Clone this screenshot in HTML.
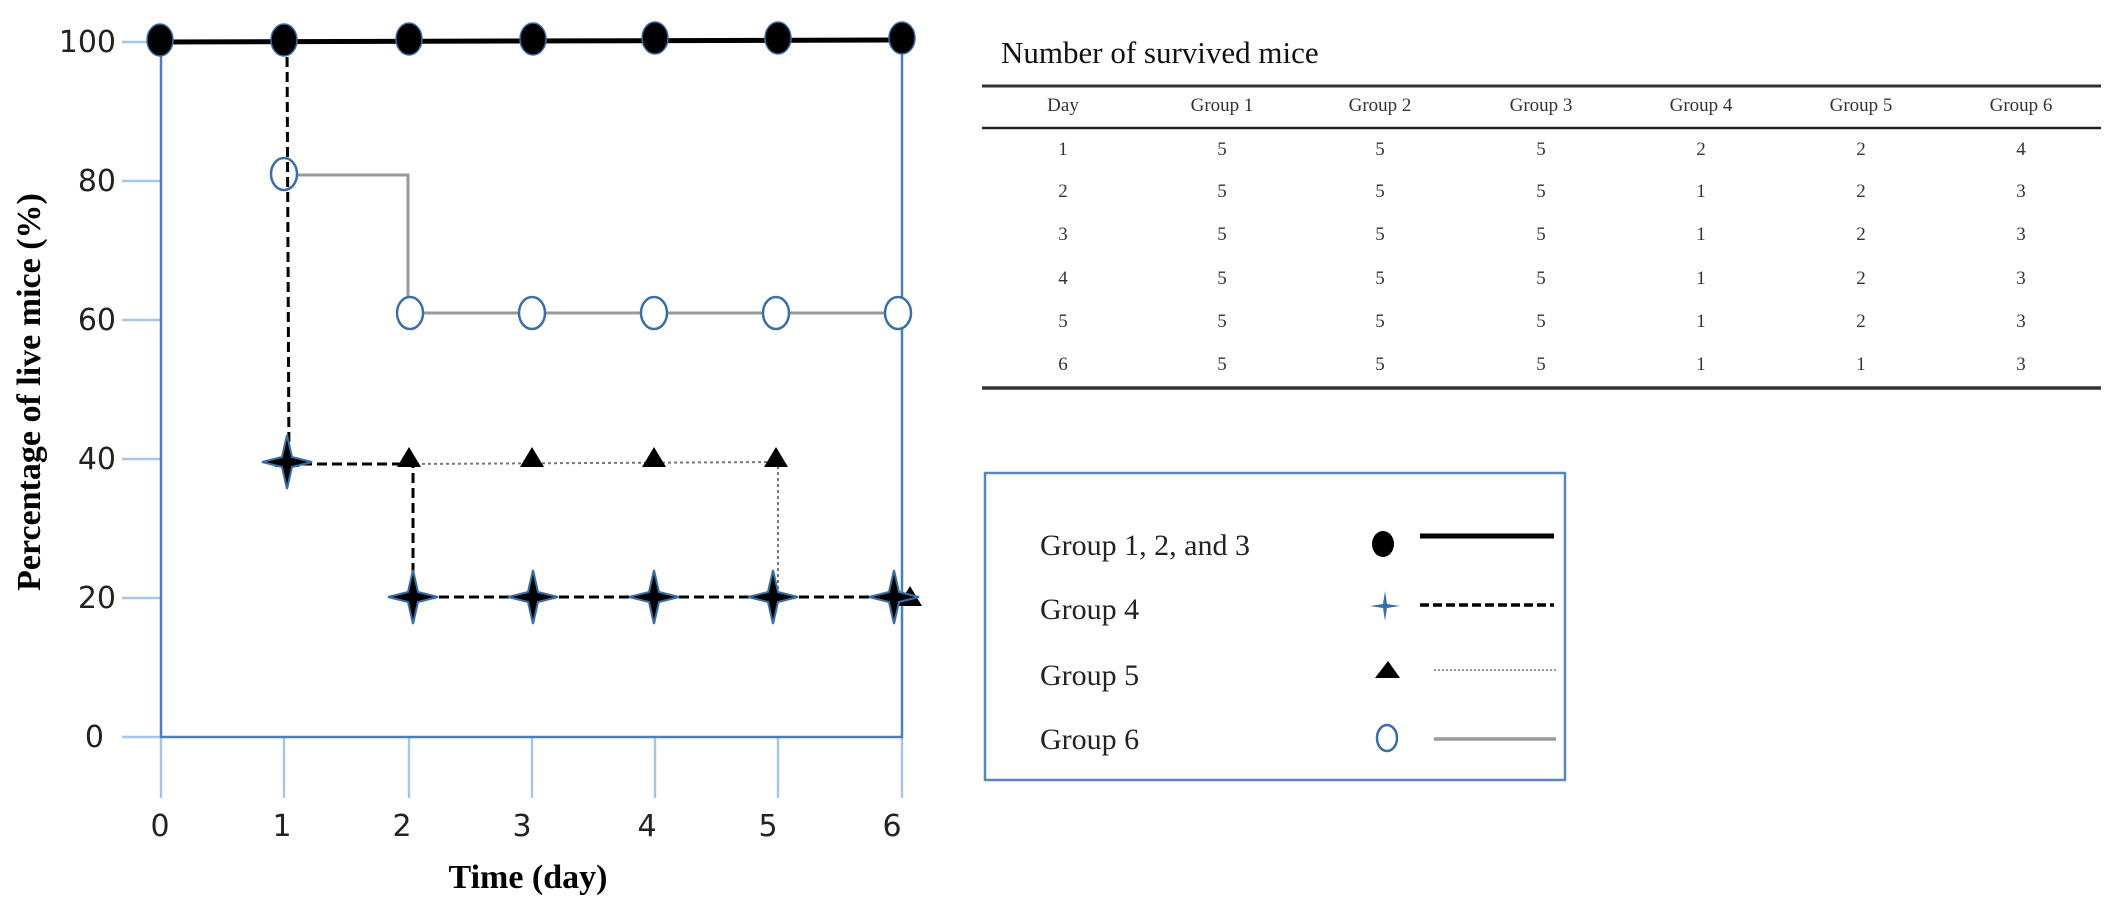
<!DOCTYPE html>
<html><head><meta charset="utf-8"><style>
html,body{margin:0;padding:0;background:#fff;}
svg{display:block;}
</style></head><body>
<svg width="2122" height="909" viewBox="0 0 2122 909" xmlns="http://www.w3.org/2000/svg">
<defs>
<g id="star"><path d="M0,-27 L5,-5 L25,0 L5,5 L0,27 L-5,5 L-25,0 L-5,-5 Z" fill="#000" stroke="#3a6ea5" stroke-width="2"/></g>
<g id="tri"><path d="M0,-11 L12,9 L-12,9 Z" fill="#000"/></g>
</defs>
<g stroke="#a9c6e4" stroke-width="2.5">
<line x1="122" y1="42" x2="161" y2="42"/><line x1="122" y1="181" x2="161" y2="181"/><line x1="122" y1="320" x2="161" y2="320"/><line x1="122" y1="459" x2="161" y2="459"/><line x1="122" y1="598" x2="161" y2="598"/><line x1="122" y1="737" x2="161" y2="737"/>
<line x1="161" y1="737" x2="161" y2="798"/><line x1="284" y1="737" x2="284" y2="798"/><line x1="409" y1="737" x2="409" y2="798"/><line x1="532" y1="737" x2="532" y2="798"/><line x1="655" y1="737" x2="655" y2="798"/><line x1="778" y1="737" x2="778" y2="798"/><line x1="902" y1="737" x2="902" y2="798"/>
</g>
<g stroke="#4f7fb5" stroke-width="2.5" fill="none">
<polyline points="161,42 161,737 902,737 902,42"/>
</g>
<g font-family="'DejaVu Sans','Liberation Sans',sans-serif" font-size="30" fill="#222" text-anchor="end">
<text x="116" y="52">100</text><text x="116" y="191">80</text><text x="116" y="330">60</text><text x="116" y="469">40</text><text x="116" y="608">20</text><text x="104" y="747">0</text>
</g>
<g font-family="'DejaVu Sans','Liberation Sans',sans-serif" font-size="30" fill="#222" text-anchor="middle">
<text x="160" y="836">0</text><text x="282" y="836">1</text><text x="402" y="836">2</text><text x="522" y="836">3</text><text x="647" y="836">4</text><text x="768" y="836">5</text><text x="892" y="836">6</text>
</g>
<text x="528" y="888" text-anchor="middle" font-family="'Liberation Serif',serif" font-weight="bold" font-size="34">Time (day)</text>
<text transform="translate(40,392) rotate(-90)" text-anchor="middle" font-family="'Liberation Serif',serif" font-weight="bold" font-size="34">Percentage of live mice (%)</text>
<polyline points="284,175 408,175 408,313 902,313" fill="none" stroke="#999" stroke-width="3"/>
<g fill="#fff" stroke="#3a6ea5" stroke-width="2.5">
<ellipse cx="284" cy="174" rx="13" ry="16"/><ellipse cx="410" cy="313" rx="13" ry="16"/><ellipse cx="532" cy="313" rx="13" ry="16"/><ellipse cx="654" cy="313" rx="13" ry="16"/><ellipse cx="776" cy="313" rx="13" ry="16"/><ellipse cx="898" cy="313" rx="13" ry="16"/>
</g>
<polyline points="410,464 778,462 778,597" fill="none" stroke="#777" stroke-width="2" stroke-dasharray="3,3"/>
<polyline points="287,42 289,464 413,464 413,597 902,597" fill="none" stroke="#000" stroke-width="3" stroke-dasharray="10,5"/>
<polyline points="160,42 902,40" fill="none" stroke="#000" stroke-width="5"/>
<g fill="#000" stroke="#3a6ea5" stroke-width="1.5">
<ellipse cx="160" cy="40" rx="13" ry="16"/><ellipse cx="284" cy="40" rx="13" ry="16"/><ellipse cx="409" cy="39" rx="13" ry="16"/><ellipse cx="533" cy="39" rx="13" ry="16"/><ellipse cx="655" cy="38" rx="13" ry="16"/><ellipse cx="778" cy="38" rx="13" ry="16"/><ellipse cx="902" cy="38" rx="13" ry="16"/>
</g>
<use href="#tri" x="287" y="458"/><use href="#tri" x="409" y="458"/><use href="#tri" x="532" y="458"/><use href="#tri" x="654" y="458"/><use href="#tri" x="776" y="458"/><use href="#tri" x="910" y="597"/>
<use href="#star" x="287" y="462"/><use href="#star" x="413" y="597"/><use href="#star" x="533" y="597"/><use href="#star" x="654" y="597"/><use href="#star" x="773" y="597"/><use href="#star" x="894" y="597"/>
<text x="1001" y="63" font-family="'Liberation Serif',serif" font-size="31" fill="#111">Number of survived mice</text>
<line x1="982" y1="86" x2="2101" y2="86" stroke="#333" stroke-width="3"/>
<line x1="982" y1="128" x2="2101" y2="128" stroke="#222" stroke-width="2.5"/>
<line x1="982" y1="388" x2="2101" y2="388" stroke="#333" stroke-width="3.5"/>
<g font-family="'Liberation Serif',serif" font-size="19" fill="#333" text-anchor="middle">
<text x="1063" y="111">Day</text><text x="1222" y="111">Group 1</text><text x="1380" y="111">Group 2</text><text x="1541" y="111">Group 3</text><text x="1701" y="111">Group 4</text><text x="1861" y="111">Group 5</text><text x="2021" y="111">Group 6</text>
<text x="1063" y="155">1</text><text x="1222" y="155">5</text><text x="1380" y="155">5</text><text x="1541" y="155">5</text><text x="1701" y="155">2</text><text x="1861" y="155">2</text><text x="2021" y="155">4</text>
<text x="1063" y="197">2</text><text x="1222" y="197">5</text><text x="1380" y="197">5</text><text x="1541" y="197">5</text><text x="1701" y="197">1</text><text x="1861" y="197">2</text><text x="2021" y="197">3</text>
<text x="1063" y="240">3</text><text x="1222" y="240">5</text><text x="1380" y="240">5</text><text x="1541" y="240">5</text><text x="1701" y="240">1</text><text x="1861" y="240">2</text><text x="2021" y="240">3</text>
<text x="1063" y="284">4</text><text x="1222" y="284">5</text><text x="1380" y="284">5</text><text x="1541" y="284">5</text><text x="1701" y="284">1</text><text x="1861" y="284">2</text><text x="2021" y="284">3</text>
<text x="1063" y="327">5</text><text x="1222" y="327">5</text><text x="1380" y="327">5</text><text x="1541" y="327">5</text><text x="1701" y="327">1</text><text x="1861" y="327">2</text><text x="2021" y="327">3</text>
<text x="1063" y="370">6</text><text x="1222" y="370">5</text><text x="1380" y="370">5</text><text x="1541" y="370">5</text><text x="1701" y="370">1</text><text x="1861" y="370">1</text><text x="2021" y="370">3</text>
</g>
<rect x="985" y="473" width="580" height="307" fill="#fff" stroke="#5b86bb" stroke-width="2.5"/>
<g font-family="'Liberation Serif',serif" font-size="30" fill="#222">
<text x="1040" y="555">Group  1, 2, and 3</text><text x="1040" y="619">Group  4</text><text x="1040" y="685">Group  5</text><text x="1040" y="749">Group  6</text>
</g>
<ellipse cx="1383" cy="544" rx="11" ry="13" fill="#000"/>
<line x1="1420" y1="536" x2="1554" y2="536" stroke="#000" stroke-width="5"/>
<path d="M1385,591 L1387,604 L1400,606 L1387,608 L1385,621 L1383,608 L1370,606 L1383,604 Z" fill="#3a6ea5"/>
<line x1="1420" y1="605" x2="1554" y2="605" stroke="#000" stroke-width="3.5" stroke-dasharray="9,4"/>
<path d="M1388,661 L1400,678 L1375,678 Z" fill="#000"/>
<line x1="1434" y1="670" x2="1556" y2="670" stroke="#777" stroke-width="1.5" stroke-dasharray="2,2"/>
<ellipse cx="1387" cy="738" rx="10" ry="13" fill="#fff" stroke="#3a6ea5" stroke-width="2.5"/>
<line x1="1434" y1="739" x2="1556" y2="739" stroke="#999" stroke-width="3.5"/>
</svg>
</body></html>
